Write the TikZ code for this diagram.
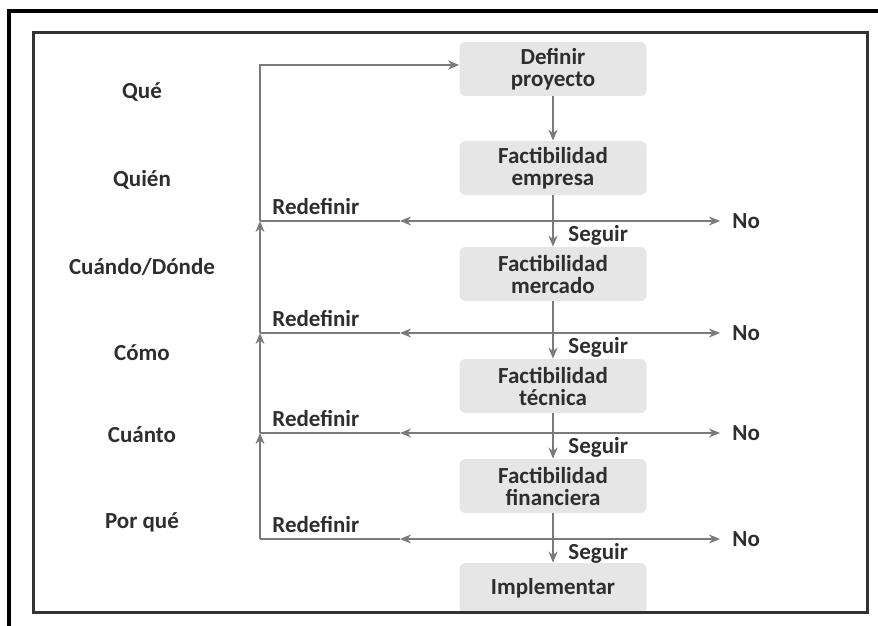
\documentclass[tikz,border=0pt]{standalone}
\usepackage{fontspec}
\setmainfont{Carlito}
\usetikzlibrary{positioning,arrows.meta}
\definecolor{boxgray}{HTML}{E6E6E6}
\definecolor{linegray}{HTML}{7A7A7A}
\definecolor{textgray}{HTML}{2E2E2E}

\begin{document}
\begin{tikzpicture}[x=0.5pt,y=-0.5pt,
     >={Stealth[length=5.5pt,width=4.5pt]},
     box/.style = {fill=boxgray, rounded corners=3pt, minimum width=93.5pt, minimum height=27pt, inner sep=0pt, align=center, text=textgray, font=\bfseries\fontsize{11.5}{11}\selectfont},
     lbl/.style = {inner sep=1pt, text=textgray, font=\bfseries\fontsize{11.5}{12}\selectfont},
     flow/.style = {draw=linegray, line width=1pt}]
     \useasboundingbox (0,0) rectangle (878,626);

     % frames
     \draw[line width=1.6pt] (9,626) -- (9,11) -- (878,11);

     \node[box] (definir) at (553,69) {Definir\\proyecto};
     \node[box] (empresa) at (553,168) {Factibilidad\\empresa};
     \node[box] (mercado) at (553,274) {Factibilidad\\mercado};
     \node[box] (tecnica) at (553,386) {Factibilidad\\técnica};
     \node[box] (financiera) at (553,486) {Factibilidad\\financiera};
     \node[box, minimum height=25pt] (implementar) at (553,588) {Implementar};

     \draw[line width=1.5pt, draw=black!80] (33,33) rectangle (867,612);

     % questions
     \node[lbl] (que) at (142,92) {Qué};
     \node[lbl] (quien) at (142,180) {Quién};
     \node[lbl] (cuando) at (142,267) {Cuándo/Dónde};
     \node[lbl] (como) at (142,353) {Cómo};
     \node[lbl] (cuanto) at (142,435) {Cuánto};
     \node[lbl] (porque) at (142,522) {Por qué};

     \coordinate (top) at (260,65);
     \coordinate (l1) at (260,221);
     \coordinate (m1) at (400,221);
     \coordinate (j1) at (553,221);
     \coordinate (r1) at (720,221);
     \coordinate (l2) at (260,333);
     \coordinate (m2) at (400,333);
     \coordinate (j2) at (553,333);
     \coordinate (r2) at (720,333);
     \coordinate (l3) at (260,433);
     \coordinate (m3) at (400,433);
     \coordinate (j3) at (553,433);
     \coordinate (r3) at (720,433);
     \coordinate (l4) at (260,539);
     \coordinate (m4) at (400,539);
     \coordinate (j4) at (553,539);
     \coordinate (r4) at (720,539);

     \node[lbl, above right=2pt and 5pt of l1] (redef1) {Redefinir};
     \node[lbl, above right=2pt and 5pt of l2] (redef2) {Redefinir};
     \node[lbl, above right=2pt and 5pt of l3] (redef3) {Redefinir};
     \node[lbl, above right=2pt and 5pt of l4] (redef4) {Redefinir};
     \node[lbl, below right=1pt and 6.5pt of j1] (seguir1) {Seguir};
     \node[lbl, below right=1pt and 6.5pt of j2] (seguir2) {Seguir};
     \node[lbl, below right=1pt and 6.5pt of j3] (seguir3) {Seguir};
     \node[lbl, below right=1pt and 6.5pt of j4] (seguir4) {Seguir};
     \node[lbl, right=5pt of r1] (no1) {No};
     \node[lbl, right=5pt of r2] (no2) {No};
     \node[lbl, right=5pt of r3] (no3) {No};
     \node[lbl, right=5pt of r4] (no4) {No};

     \draw[flow,->] (definir) -- (empresa);
     \draw[flow,->] (empresa) -- (mercado);
     \draw[flow,->] (mercado) -- (tecnica);
     \draw[flow,->] (tecnica) -- (financiera);
     \draw[flow,->] (financiera) -- (implementar);

     \draw[flow,->] (j1) -- (r1);
     \draw[flow,->] (j1) -- (m1);
     \draw[flow] (m1) -- (l1);
     \draw[flow,->] (j2) -- (r2);
     \draw[flow,->] (j2) -- (m2);
     \draw[flow] (m2) -- (l2);
     \draw[flow,->] (j3) -- (r3);
     \draw[flow,->] (j3) -- (m3);
     \draw[flow] (m3) -- (l3);
     \draw[flow,->] (j4) -- (r4);
     \draw[flow,->] (j4) -- (m4);
     \draw[flow] (m4) -- (l4);

     \draw[flow,->] (l4) -- (l3);
     \draw[flow,->] (l3) -- (l2);
     \draw[flow,->] (l2) -- (l1);
     \draw[flow,->] (l1) -- (top) -- (top -| definir.west);
\end{tikzpicture}
\end{document}
